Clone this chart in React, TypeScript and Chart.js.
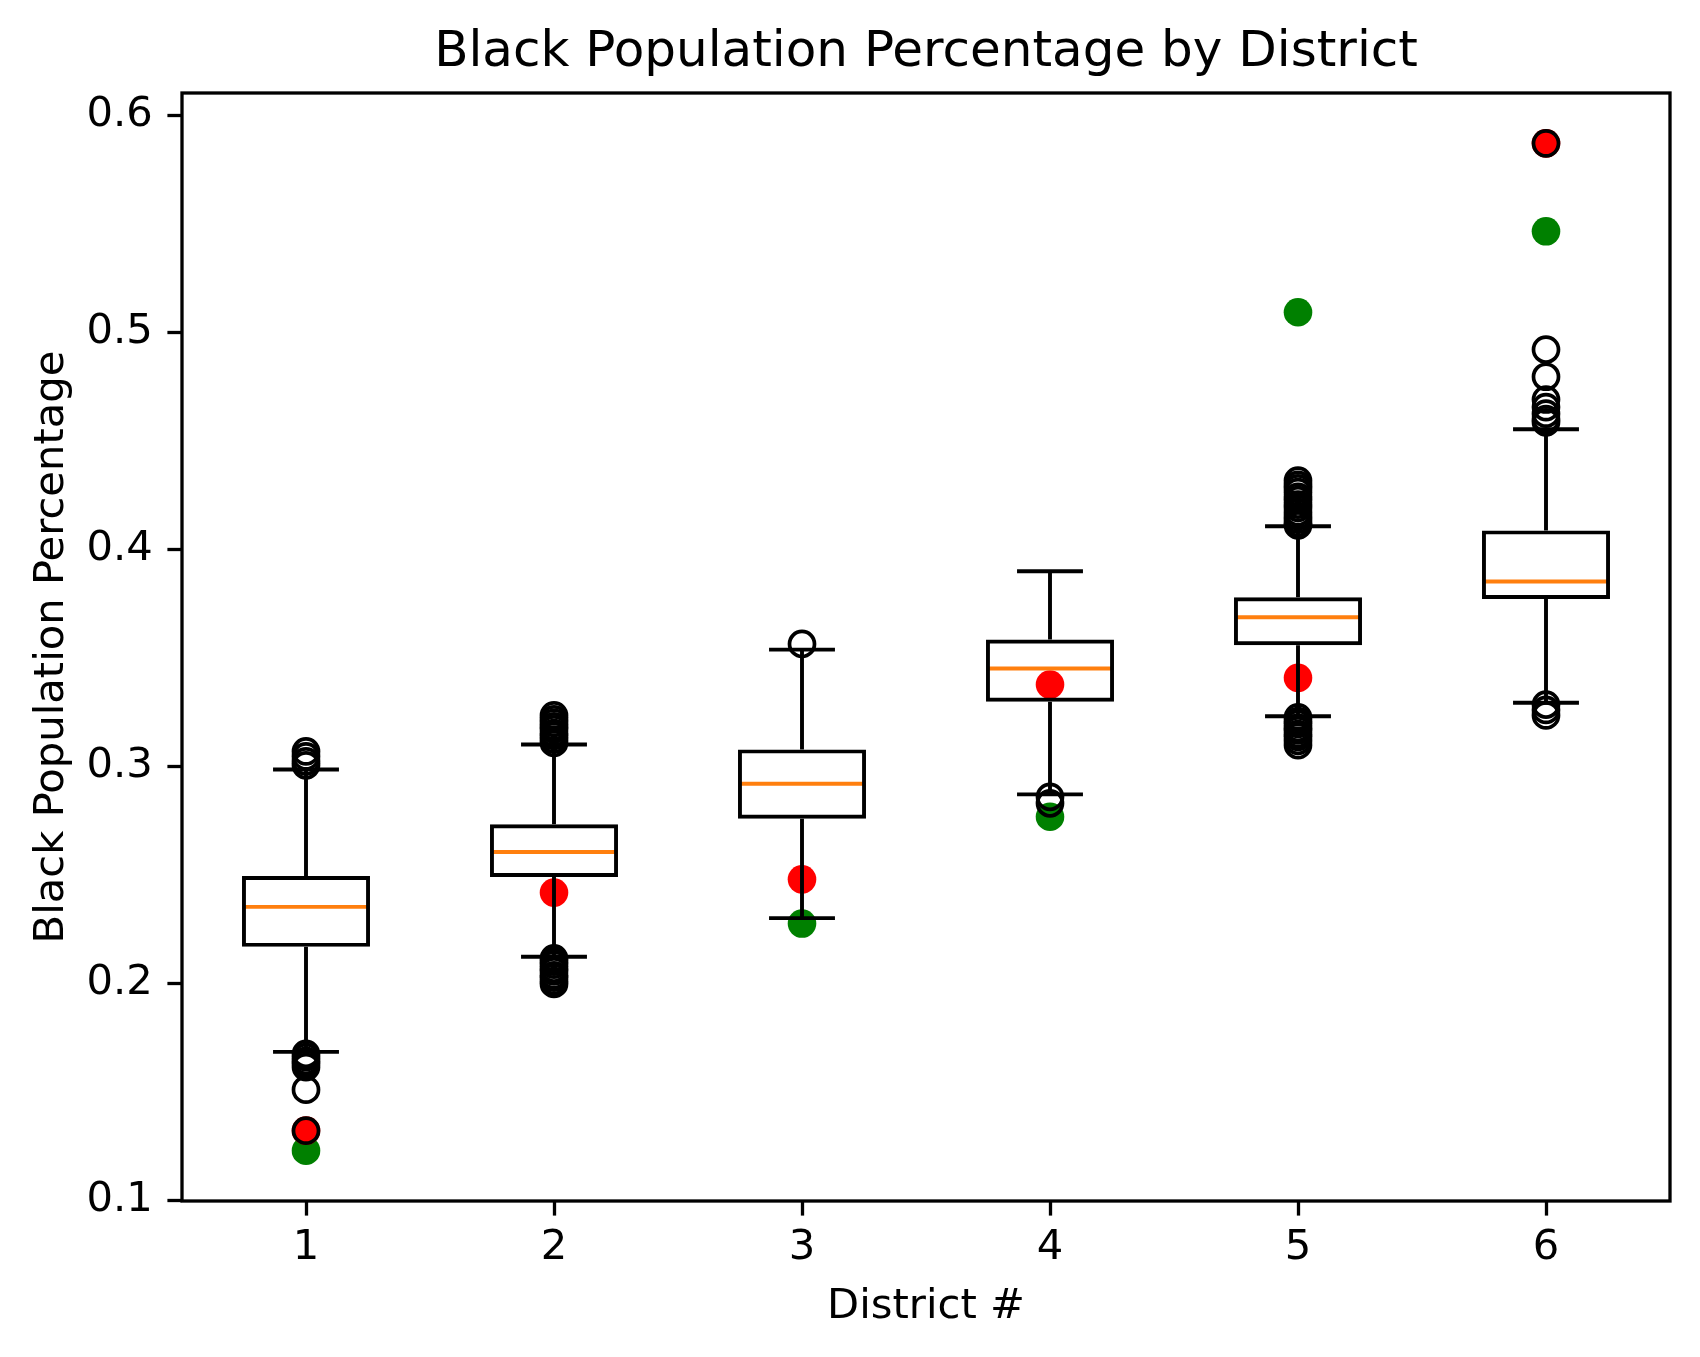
import React, { useEffect, useRef } from "react";
import { Chart, registerables } from "chart.js";

Chart.register(...registerables);

// ---- data ----
const districts = [1, 2, 3, 4, 5, 6];
const xTickLabels = ["1", "2", "3", "4", "5", "6"];
const yTickValues = [0.1, 0.2, 0.3, 0.4, 0.5, 0.6];
const yTickLabels = ["0.1", "0.2", "0.3", "0.4", "0.5", "0.6"];

const whiskerLow = [0.1685, 0.2123, 0.2301, 0.2871, 0.3231, 0.3293];
const q1 = [0.2169, 0.2491, 0.2759, 0.3298, 0.3558, 0.3771];
const median = [0.2353, 0.2606, 0.292, 0.3451, 0.3687, 0.3852];
const q3 = [0.2495, 0.2733, 0.3078, 0.3584, 0.3779, 0.4087];
const whiskerHigh = [0.2986, 0.3101, 0.3538, 0.3899, 0.4106, 0.4553];

const outliersD1 = [0.3069, 0.3046, 0.3023, 0.3005, 0.1676, 0.1661, 0.1644, 0.1631, 0.1615, 0.1511, 0.1322];
const outliersD2 = [0.3235, 0.3217, 0.3201, 0.3184, 0.3171, 0.3153, 0.3141, 0.3124, 0.3108, 0.2116, 0.2101, 0.2087, 0.2069, 0.2056, 0.2038, 0.2027, 0.2011, 0.1998];
const outliersD3 = [0.3564];
const outliersD4 = [0.286, 0.283];
const outliersD5 = [0.4316, 0.4297, 0.4281, 0.4263, 0.4242, 0.4227, 0.4206, 0.4191, 0.4171, 0.4153, 0.4137, 0.4121, 0.411, 0.3226, 0.3209, 0.3196, 0.3178, 0.3166, 0.3149, 0.3136, 0.3118, 0.3098];
const outliersD6 = [0.587, 0.492, 0.4795, 0.469, 0.4655, 0.4625, 0.46, 0.4585, 0.3285, 0.326, 0.3235];
const outliers = [outliersD1, outliersD2, outliersD3, outliersD4, outliersD5, outliersD6];

const redValues = [0.1322, 0.2419, 0.248, 0.3377, 0.3408, 0.587];
const greenValues: (number | null)[] = [0.123, null, 0.2276, 0.2768, 0.5092, 0.5465];

const TITLE = "Black Population Percentage by District";
const X_LABEL = "District #";
const Y_LABEL = "Black Population Percentage";

const FONT = "'DejaVu Sans', sans-serif";
const BOX_HALF = 0.25;
const CAP_HALF = 0.125;
const LW = 3.9;
const SPINE_W = 3.3;

const framePlugin = {
  id: "frame",
  afterDatasetsDraw(chart: any) {
    const { ctx, chartArea } = chart;
    ctx.save();
    ctx.strokeStyle = "#000";
    ctx.lineWidth = SPINE_W;
    ctx.strokeRect(chartArea.left, chartArea.top, chartArea.right - chartArea.left, chartArea.bottom - chartArea.top);
    ctx.restore();
  },
};

export default function App() {
  const ref = useRef<HTMLCanvasElement>(null);

  useEffect(() => {
    const canvas = ref.current;
    if (!canvas) return;

    const medianData: any[] = [];
    const whiskerData: any[] = [];
    const capData: any[] = [];
    const outlierData: any[] = [];
    districts.forEach((d, i) => {
      medianData.push({ x: d - BOX_HALF, y: median[i] }, { x: d + BOX_HALF, y: median[i] }, { x: d, y: null });
      whiskerData.push({ x: d, y: whiskerLow[i] }, { x: d, y: q1[i] }, { x: d, y: null });
      whiskerData.push({ x: d, y: q3[i] }, { x: d, y: whiskerHigh[i] }, { x: d, y: null });
      capData.push({ x: d - CAP_HALF, y: whiskerLow[i] }, { x: d + CAP_HALF, y: whiskerLow[i] }, { x: d, y: null });
      capData.push({ x: d - CAP_HALF, y: whiskerHigh[i] }, { x: d + CAP_HALF, y: whiskerHigh[i] }, { x: d, y: null });
      outliers[i].forEach((v) => outlierData.push({ x: d, y: v }));
    });
    const boxData = districts.map((d, i) => ({ x: d, y: [q1[i], q3[i]] }));
    const redData = districts.map((d, i) => ({ x: d, y: redValues[i] }));
    const greenData = districts
      .map((d, i) => ({ x: d, y: greenValues[i] }))
      .filter((p) => p.y !== null);

    const lineCommon = {
      type: "line",
      pointRadius: 0,
      pointHoverRadius: 0,
      spanGaps: false,
      fill: false,
      tension: 0,
      borderWidth: LW,
    };

    const chart = new Chart(canvas, {
      type: "bar",
      data: {
        datasets: [
          { type: "scatter", label: "green", data: greenData, pointRadius: 14.3, pointHoverRadius: 14.3, backgroundColor: "#008000", borderWidth: 0, order: 10 } as any,
          { type: "scatter", label: "red", data: redData, pointRadius: 14.3, pointHoverRadius: 14.3, backgroundColor: "#ff0000", borderWidth: 0, order: 9 } as any,
          { ...lineCommon, label: "medians", data: medianData, borderColor: "#ff7f0e", borderCapStyle: "butt", order: 8 } as any,
          {
            type: "bar", label: "boxes", data: boxData, backgroundColor: "rgba(0,0,0,0)", borderColor: "#000",
            borderWidth: LW, borderSkipped: false, barPercentage: 0.516, categoryPercentage: 1, order: 7,
          } as any,
          { ...lineCommon, label: "whiskers", data: whiskerData, borderColor: "#000", borderCapStyle: "butt", order: 6 } as any,
          { ...lineCommon, label: "caps", data: capData, borderColor: "#000", borderCapStyle: "square", order: 5 } as any,
          {
            type: "scatter", label: "fliers", data: outlierData, pointRadius: 12.5, pointHoverRadius: 12.5,
            backgroundColor: "rgba(0,0,0,0)", borderColor: "#000", borderWidth: 3.7, order: 4,
          } as any,
        ],
      },
      options: {
        responsive: false,
        animation: false,
        devicePixelRatio: 1,
        events: [],
        layout: { padding: { left: 0, right: 30, top: 0, bottom: 0 } },
        plugins: {
          legend: { display: false },
          tooltip: { enabled: false },
          title: {
            display: true,
            fullSize: false,
            text: TITLE,
            color: "#000",
            font: { family: FONT, size: 50, weight: "normal", lineHeight: 1.2 },
            padding: { top: 23.2, bottom: 9.8 },
          },
        },
        scales: {
          x: {
            type: "linear",
            min: 0.5,
            max: 6.5,
            offset: false,
            afterFit: (scale: any) => { scale.height = 156; },
            afterBuildTicks: (scale: any) => { scale.ticks = districts.map((v) => ({ value: v })); },
            ticks: {
              color: "#000",
              padding: 7.6,
              font: { family: FONT, size: 41.7 },
              maxRotation: 0,
              autoSkip: false,
              callback: (v: any) => xTickLabels[districts.indexOf(Number(v))] ?? "",
            },
            grid: { display: true, offset: false, drawOnChartArea: false, drawTicks: true, tickLength: 14.6, tickWidth: SPINE_W, tickColor: "#000" },
            border: { display: false },
            title: { display: true, text: X_LABEL, color: "#000", font: { family: FONT, size: 41.7 }, padding: { top: 0, bottom: 25.2 } },
          },
          y: {
            type: "linear",
            min: 0.0998,
            max: 0.6102,
            beginAtZero: false,
            afterFit: (scale: any) => { scale.width = 182; },
            afterBuildTicks: (scale: any) => { scale.ticks = yTickValues.map((v) => ({ value: v })); },
            ticks: {
              color: "#000",
              padding: 14.6,
              font: { family: FONT, size: 41.7 },
              autoSkip: false,
              callback: (v: any) => {
                const idx = yTickValues.findIndex((t) => Math.abs(t - Number(v)) < 1e-9);
                return idx >= 0 ? yTickLabels[idx] : "";
              },
            },
            grid: { display: true, drawOnChartArea: false, drawTicks: true, tickLength: 14.6, tickWidth: SPINE_W, tickColor: "#000" },
            border: { display: false },
            title: { display: true, text: Y_LABEL, color: "#000", font: { family: FONT, size: 41.7 }, padding: { top: 26.9, bottom: 0 } },
          },
        },
      } as any,
      plugins: [framePlugin],
    });

    return () => chart.destroy();
  }, []);

  return (
    <div style={{ position: "absolute", left: 0, top: 0, width: 1700, height: 1357, background: "#fff" }}>
      <canvas ref={ref} width={1700} height={1357} style={{ width: 1700, height: 1357, display: "block" }} />
    </div>
  );
}
